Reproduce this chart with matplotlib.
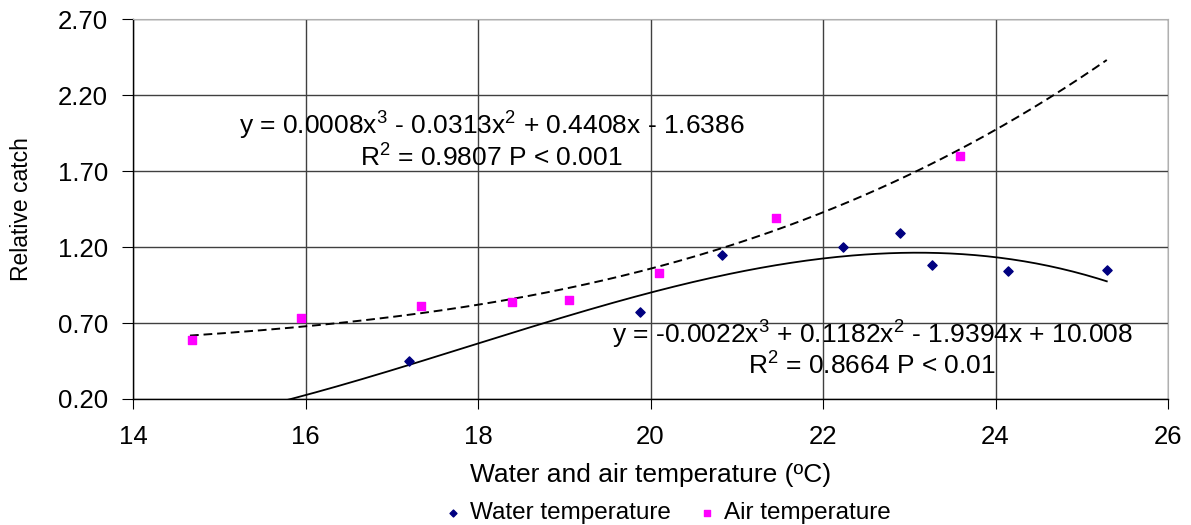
import numpy as np
import matplotlib
matplotlib.use('Agg')
import matplotlib.pyplot as plt

plt.rcParams['font.family'] = ['Liberation Sans', 'DejaVu Sans']
plt.rcParams['mathtext.fontset'] = 'custom'
plt.rcParams['mathtext.rm'] = 'Liberation Sans'
plt.rcParams['mathtext.it'] = 'Liberation Sans:italic'

# data
water_temp = [17.20, 19.88, 20.83, 22.23, 22.89, 23.26, 24.15, 25.29]
water_catch = [0.45, 0.77, 1.15, 1.20, 1.29, 1.08, 1.04, 1.05]
air_temp = [14.68, 15.95, 17.34, 18.39, 19.06, 20.10, 21.45, 23.59]
air_catch = [0.59, 0.73, 0.81, 0.84, 0.85, 1.03, 1.39, 1.80]

# trendline coefficients as printed on the chart (x^3, x^2, x, 1)
water_coef = [-0.0022, 0.1182, -1.9394, 10.008]
air_coef = [0.0008, -0.0313, 0.4408, -1.6386]
trend_range = (14.66, 25.29)

xticks = [14, 16, 18, 20, 22, 24, 26]
yticks = [0.20, 0.70, 1.20, 1.70, 2.20, 2.70]

fig = plt.figure(figsize=(11.91, 5.25), dpi=100)
ax = fig.add_axes([0.1117, 0.24, 0.869, 0.7238])

xs = np.linspace(trend_range[0], trend_range[1], 300)
ax.plot(xs, np.polyval(air_coef, xs), color='black', lw=1.4,
        dashes=(4.5, 2.5), zorder=2)
ax.plot(xs, np.polyval(water_coef, xs), color='black', lw=1.3, zorder=2)

ax.scatter(water_temp, water_catch, marker='D', s=22, color='#000080',
           zorder=3, label='Water temperature')
ax.scatter(air_temp, air_catch, marker='s', s=40, color='#FF00FF',
           zorder=3, label='Air temperature')

ax.set_xlim(14, 26)
ax.set_ylim(0.20, 2.70)
ax.set_xticks(xticks)
ax.set_yticks(yticks)
ax.set_yticklabels(['%.2f' % v for v in yticks])
ax.grid(True, color='#404040', lw=1.0)
ax.set_axisbelow(True)

for side in ['top', 'right']:
    ax.spines[side].set_color('#b0b0b0')
for side in ['left', 'bottom']:
    ax.spines[side].set_color('black')
    ax.spines[side].set_linewidth(1.0)

ax.tick_params(axis='x', direction='out', length=7, pad=12, labelsize=18.5)
ax.tick_params(axis='y', direction='out', length=8, pad=10, labelsize=18.5)

ax.set_xlabel('Water and air temperature (ºC)', fontsize=19, labelpad=10)
ax.set_ylabel('Relative catch', fontsize=16.5, labelpad=18)

ax.text(18.16, 2.00, r'y = 0.0008x$^3$ - 0.0313x$^2$ + 0.4408x - 1.6386',
        fontsize=19, ha='center', va='center')
ax.text(18.16, 1.786, r'R$^2$ = 0.9807 P < 0.001',
        fontsize=19, ha='center', va='center')
ax.text(22.57, 0.62, r'y = -0.0022x$^3$ + 0.1182x$^2$ - 1.9394x + 10.008',
        fontsize=19, ha='center', va='center')
ax.text(22.57, 0.417, r'R$^2$ = 0.8664 P < 0.01',
        fontsize=19, ha='center', va='center')

fig.legend(loc='center', bbox_to_anchor=(0.559, 0.023), ncol=2,
           frameon=False, fontsize=17.5, handletextpad=0.2,
           handlelength=1.0, columnspacing=1.0, markerscale=0.75)

fig.savefig('out.png', dpi=100)
